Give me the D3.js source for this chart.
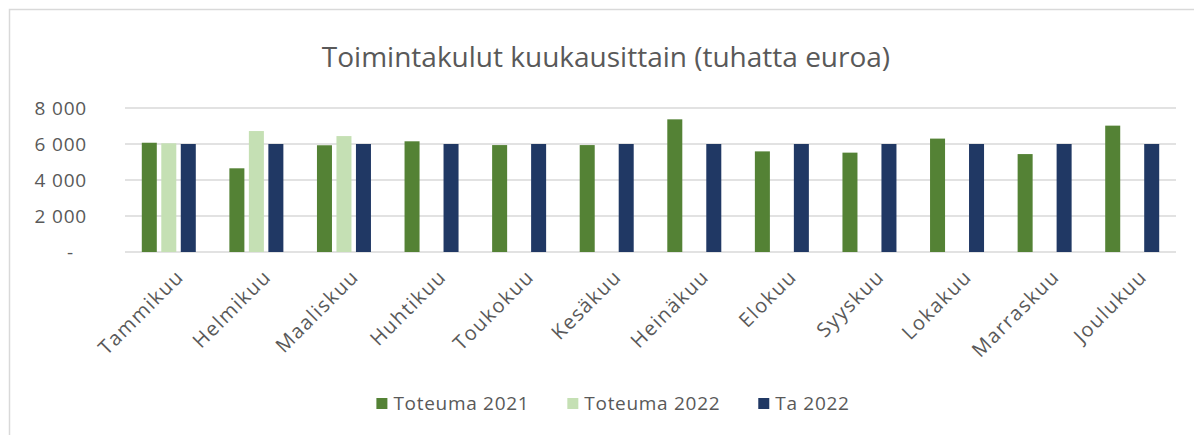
<!DOCTYPE html>
<html>
<head>
<meta charset="utf-8">
<script src="https://cdn.jsdelivr.net/npm/d3@7.9.0/dist/d3.min.js"></script>
<style>
  html, body { margin: 0; padding: 0; background: #fff; }
  svg { display: block; font-family: "Open Sans", sans-serif; }
</style>
</head>
<body>
<svg id="chart" width="1194" height="435"></svg>
<script>
const months = ['Tammikuu', 'Helmikuu', 'Maaliskuu', 'Huhtikuu', 'Toukokuu', 'Kesäkuu',
  'Heinäkuu', 'Elokuu', 'Syyskuu', 'Lokakuu', 'Marraskuu', 'Joulukuu'];
const seriesNames = ['Toteuma 2021', 'Toteuma 2022', 'Ta 2022'];
const toteuma2021 = [6070, 4650, 5930, 6150, 5940, 5940, 7370, 5590, 5520, 6300, 5440, 7020];
const toteuma2022 = [6040, 6720, 6440, null, null, null, null, null, null, null, null, null];
const ta2022 = [6000, 6000, 6000, 6000, 6000, 6000, 6000, 6000, 6000, 6000, 6000, 6000];
const yTicks = [0, 2000, 4000, 6000, 8000];
const colors = ['#548235', '#c5e0b4', '#203864'];

const allSeries = [toteuma2021, toteuma2022, ta2022];

const svg = d3.select('#chart');

// chart frame (cut off on right and bottom like the screenshot)
svg.append('rect')
  .attr('x', 9.5).attr('y', 9.5)
  .attr('width', 1300).attr('height', 500)
  .attr('fill', '#fff')
  .attr('stroke', '#d9d9d9')
  .attr('stroke-width', 1.5);

const plotLeft = 125, plotRight = 1176, plotTop = 108, plotBottom = 252;

const x = d3.scaleBand().domain(months).range([plotLeft, plotRight]).padding(0);
const bw = x.bandwidth();
const x1 = d3.scaleBand().domain(seriesNames)
  .range([bw / 2 - 27, bw / 2 + 27]).paddingInner(0.23).paddingOuter(0);
const y = d3.scaleLinear().domain([0, 8000]).range([plotBottom, plotTop]);

const fmt = d3.formatLocale({ decimal: ',', thousands: '\u00a0', grouping: [3] }).format(',');

// gridlines
svg.append('g')
  .selectAll('line')
  .data(yTicks)
  .join('line')
  .attr('x1', plotLeft).attr('x2', plotRight)
  .attr('y1', d => y(d)).attr('y2', d => y(d))
  .attr('stroke', '#d9d9d9')
  .attr('stroke-width', 1.3);

// y axis labels
const yAxis = d3.axisLeft(y)
  .tickValues(yTicks)
  .tickSize(0)
  .tickPadding(0)
  .tickFormat(d => d === 0 ? '-' : fmt(d));

const yG = svg.append('g')
  .attr('transform', `translate(${plotLeft - 38},0)`)
  .call(yAxis);
yG.select('.domain').remove();
yG.selectAll('text')
  .attr('fill', '#595959')
  .attr('font-size', 19)
  .attr('letter-spacing', 0.8)
  .attr('font-family', '"Open Sans", sans-serif')
  .attr('dx', d => d === 0 ? -13 : 0);

// bars
const groups = svg.append('g')
  .selectAll('g')
  .data(seriesNames)
  .join('g')
  .attr('fill', (d, i) => colors[i]);

groups.selectAll('rect')
  .data((s, i) => months.map((m, j) => ({ month: m, series: s, value: allSeries[i][j] }))
    .filter(d => d.value != null))
  .join('rect')
  .attr('x', d => x(d.month) + x1(d.series))
  .attr('width', x1.bandwidth())
  .attr('y', d => y(d.value))
  .attr('height', d => y(0) - y(d.value));

// x axis labels
const xAxis = d3.axisBottom(x).tickSize(0).tickPadding(0);
const xG = svg.append('g')
  .attr('transform', `translate(0,${plotBottom})`)
  .call(xAxis);
xG.select('.domain').remove();
xG.selectAll('text')
  .attr('fill', '#595959')
  .attr('font-size', 20)
  .attr('letter-spacing', 1.4)
  .attr('font-family', '"Open Sans", sans-serif')
  .attr('text-anchor', 'end')
  .attr('dy', 0)
  .attr('transform', 'translate(16,26) rotate(-45)');

// title
svg.append('text')
  .attr('x', 606)
  .attr('y', 67)
  .attr('text-anchor', 'middle')
  .attr('fill', '#595959')
  .attr('font-size', 28)
  .text('Toimintakulut kuukausittain (tuhatta euroa)');

// legend
const legend = svg.append('g');
let lx = 0;
seriesNames.forEach((name, i) => {
  const item = legend.append('g').attr('transform', `translate(${lx},0)`);
  item.append('rect')
    .attr('x', 0).attr('y', -12)
    .attr('width', 11).attr('height', 11)
    .attr('fill', colors[i]);
  const t = item.append('text')
    .attr('x', 17).attr('y', 0)
    .attr('fill', '#595959')
    .attr('font-size', 19)
    .attr('letter-spacing', 0.7)
    .text(name);
  lx += 17 + t.node().getComputedTextLength() + 38;
});
const legendWidth = lx - 38;
legend.attr('transform', `translate(${613 - legendWidth / 2},410)`);
</script>
</body>
</html>
